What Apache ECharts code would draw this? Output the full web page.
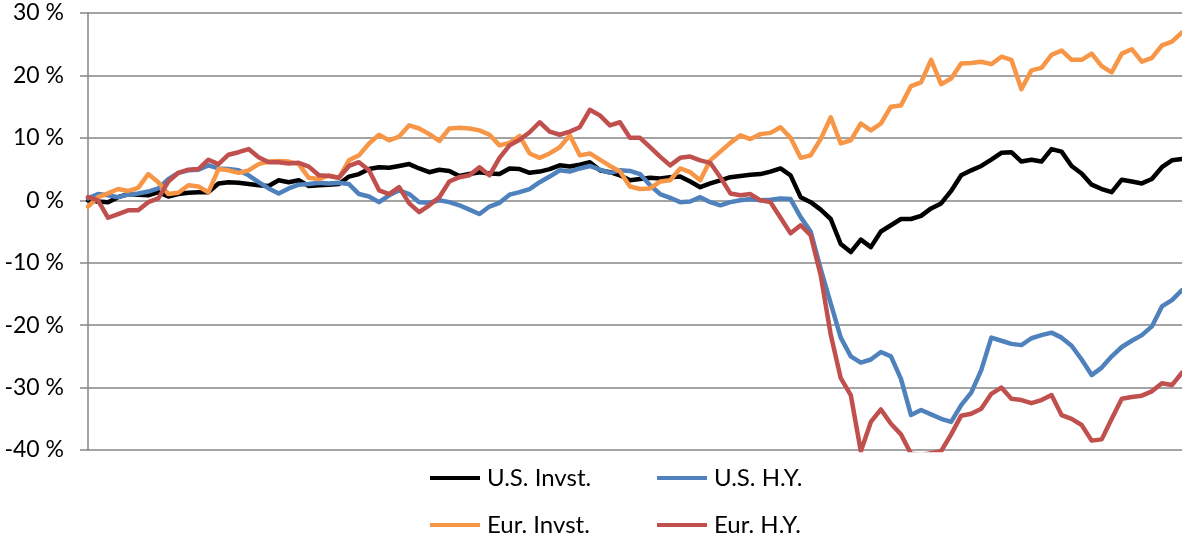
<!DOCTYPE html>
<html>
<head>
<meta charset="utf-8">
<script src="https://cdn.jsdelivr.net/npm/echarts@6/dist/echarts.min.js"></script>
<style>
  html, body { margin: 0; padding: 0; background: #ffffff; }
  #chart { width: 1182px; height: 540px; }
</style>
</head>
<body>
<div id="chart"></div>
<script>
// Cumulative return (%) of four credit indices, sampled at regular steps.
const categories = Array.from({ length: 110 }, (_, i) => String(i + 1));

const usInvst = [
  0, -0.2, -0.3, 0.5, 1.0, 0.9, 0.8, 1.3, 0.6, 1.0,
  1.2, 1.3, 1.3, 2.7, 2.9, 2.8, 2.6, 2.4, 2.3, 3.2,
  2.9, 3.2, 2.3, 2.4, 2.5, 2.6, 3.8, 4.2, 5.0, 5.3,
  5.2, 5.5, 5.8, 5.1, 4.5, 4.9, 4.7, 3.9, 4.2, 4.5,
  4.3, 4.2, 5.1, 5.0, 4.4, 4.6, 5.0, 5.6, 5.4, 5.7,
  6.1, 4.8, 4.5, 4.0, 3.2, 3.4, 3.6, 3.5, 3.7, 3.8,
  3.0, 2.1, 2.7, 3.2, 3.7, 3.9, 4.1, 4.2, 4.6, 5.1,
  4.0, 0.5, -0.3, -1.5, -3.0, -7.0, -8.3, -6.3, -7.5, -5.0,
  -4.0, -3.0, -3.0, -2.5, -1.3, -0.5, 1.5, 4.0, 4.8, 5.5,
  6.5, 7.6, 7.7, 6.2, 6.5, 6.2, 8.2, 7.8, 5.5, 4.3,
  2.5, 1.8, 1.3, 3.3, 3.0, 2.7, 3.4, 5.3, 6.4, 6.6
];

const usHY = [
  0.3, 1.0, 0.8, 0.5, 0.9, 1.1, 1.4, 1.9, 3.4, 4.4,
  4.8, 4.9, 5.6, 5.1, 5.0, 4.8, 4.0, 2.9, 1.9, 1.1,
  1.9, 2.5, 2.6, 2.8, 2.7, 2.8, 2.6, 1.0, 0.6, -0.3,
  0.8, 1.6, 1.0, -0.3, -0.4, 0.0, -0.3, -0.8, -1.5, -2.2,
  -1.0, -0.4, 0.9, 1.3, 1.8, 2.9, 3.8, 4.8, 4.6, 5.1,
  5.5, 4.9, 4.4, 4.8, 4.7, 4.2, 2.4, 1.0, 0.4, -0.3,
  -0.2, 0.5, -0.3, -0.8, -0.3, 0.0, 0.2, 0.0, 0.1, 0.3,
  0.2, -2.7, -5.0, -11.0, -16.5, -22.0, -25.0, -26.0, -25.5, -24.3,
  -25.0, -28.6, -34.4, -33.6, -34.3, -35.0, -35.5, -32.8, -30.8, -27.2,
  -22.0, -22.5, -23.0, -23.2, -22.1, -21.6, -21.2, -22.0, -23.3, -25.5,
  -28.0, -26.8, -25.0, -23.5, -22.5, -21.6, -20.2, -17.0, -16.0, -14.4
];

const eurInvst = [
  -1.0, 0.5, 1.1, 1.8, 1.5, 2.0, 4.2, 2.9, 1.0, 1.2,
  2.4, 2.2, 1.3, 5.0, 4.8, 4.4, 4.8, 5.8, 6.2, 6.3,
  6.2, 5.8, 3.6, 3.4, 4.0, 3.6, 6.4, 7.2, 9.1, 10.5,
  9.6, 10.2, 12.0, 11.5, 10.6, 9.5, 11.5, 11.6, 11.5, 11.2,
  10.5, 8.8, 9.2, 10.3, 7.5, 6.8, 7.5, 8.5, 10.4, 7.2,
  7.5, 6.5, 5.5, 4.6, 2.2, 1.8, 1.9, 3.0, 3.2, 5.1,
  4.5, 3.2, 6.4, 7.8, 9.2, 10.4, 9.8, 10.6, 10.8, 11.7,
  10.0, 6.8, 7.2, 9.8, 13.3, 9.1, 9.6, 12.3, 11.2, 12.3,
  15.0, 15.2, 18.3, 18.9, 22.5, 18.6, 19.5, 21.9, 22.0, 22.2,
  21.8, 23.0, 22.5, 17.8, 20.8, 21.2, 23.3, 24.0, 22.5, 22.5,
  23.5, 21.5, 20.5, 23.5, 24.2, 22.2, 22.8, 24.8, 25.4, 26.9
];

const eurHY = [
  0.5, 0.0, -2.8, -2.2, -1.6, -1.6, -0.3, 0.3, 3.0, 4.4,
  4.9, 5.0, 6.5, 5.8, 7.3, 7.7, 8.2, 6.9, 6.1, 6.1,
  5.9, 6.0, 5.4, 4.0, 3.9, 3.6, 5.5, 6.1, 4.8, 1.6,
  1.0, 2.1, -0.5, -1.9, -0.8, 0.5, 3.0, 3.7, 4.0, 5.3,
  4.0, 6.8, 8.8, 9.7, 10.9, 12.5, 11.0, 10.5, 11.0, 11.7,
  14.5, 13.6, 12.0, 12.5, 10.0, 10.0, 8.5, 7.0, 5.6, 6.8,
  7.0, 6.4, 6.0, 3.7, 1.1, 0.8, 1.0, 0.0, -0.3, -2.8,
  -5.3, -4.0, -5.6, -12.0, -21.5, -28.5, -31.2, -40.2, -35.5, -33.5,
  -35.8, -37.5, -40.6, -40.8, -40.5, -40.2, -37.5, -34.5, -34.2, -33.4,
  -31.0, -30.0, -31.8, -32.0, -32.5, -32.0, -31.2, -34.4, -35.0, -36.0,
  -38.5, -38.3, -35.0, -31.8, -31.5, -31.3, -30.6, -29.3, -29.6, -27.6
];

const yTicks = { min: -40, max: 30, step: 10 };

const seriesDefs = [
  { name: 'U.S. Invst.', data: usInvst, color: '#000000' },
  { name: 'U.S. H.Y.', data: usHY, color: '#4F81BD' },
  { name: 'Eur. Invst.', data: eurInvst, color: '#F79646' },
  { name: 'Eur. H.Y.', data: eurHY, color: '#C0504D' }
];

const FONT = 'Lato, "Open Sans", sans-serif';

// One legend per entry so each sits in its own slot of the 2x2 block
const legendSlots = [
  { left: 430, top: 466 },
  { left: 657, top: 466 },
  { left: 430, top: 513 },
  { left: 657, top: 513 }
];

const chart = echarts.init(document.getElementById('chart'), null, { renderer: 'canvas' });

chart.setOption({
  animation: false,
  backgroundColor: '#ffffff',
  grid: { left: 88, right: 0, top: 13, bottom: 90, containLabel: false },
  legend: seriesDefs.map((s, i) => ({
    data: [{ name: s.name, icon: 'rect' }],
    left: legendSlots[i].left,
    top: legendSlots[i].top,
    itemWidth: 50,
    itemHeight: 4,
    padding: 0,
    textStyle: { fontFamily: FONT, fontSize: 24, color: '#000000', padding: [3, 0, 0, 2] }
  })),
  xAxis: {
    type: 'category',
    data: categories,
    boundaryGap: false,
    axisLine: { show: false },
    axisTick: { show: false },
    axisLabel: { show: false },
    splitLine: { show: false }
  },
  yAxis: {
    type: 'value',
    min: yTicks.min,
    max: yTicks.max,
    interval: yTicks.step,
    axisLine: { show: true, lineStyle: { color: '#868686', width: 1.5 } },
    axisTick: { show: true, inside: false, length: 8, lineStyle: { color: '#868686', width: 1.5 } },
    axisLabel: {
      formatter: '{value} %',
      margin: 24,
      fontFamily: FONT,
      fontSize: 23,
      color: '#000000'
    },
    splitLine: { show: true, lineStyle: { color: '#868686', width: 1.5 } }
  },
  series: seriesDefs.map(s => ({
    name: s.name,
    type: 'line',
    data: s.data,
    symbol: 'none',
    showSymbol: false,
    clip: true,
    smooth: false,
    itemStyle: { color: s.color },
    lineStyle: { color: s.color, width: 4.5, join: 'round', cap: 'round' },
    emphasis: { disabled: true }
  }))
});
</script>
</body>
</html>
